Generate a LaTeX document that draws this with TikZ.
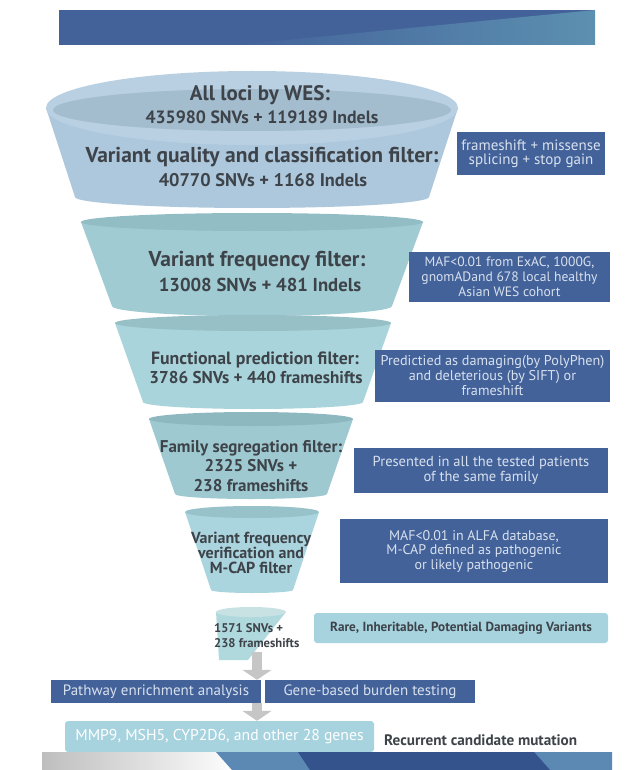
\documentclass[tikz,border=0pt]{standalone}
\usepackage{fontspec}
\setmainfont{PT Sans}
\usepackage{xcolor}
\usetikzlibrary{positioning,arrows.meta,calc}
\definecolor{boxblue}{HTML}{43629A}
\definecolor{boxtext}{HTML}{D8E1EE}
\definecolor{lightbox}{HTML}{A7D3DF}
\definecolor{ink}{HTML}{3D4349}
\definecolor{arrowgrey}{HTML}{C6C6C6}
\definecolor{bannerlight}{HTML}{5C90B0}
\definecolor{innerrim}{HTML}{A3BCCE}
\definecolor{smallbody}{HTML}{B0D9DE}
\definecolor{smalltop}{HTML}{C8E2E4}
\definecolor{bandgrey}{HTML}{BEBEBE}
\definecolor{bandmid}{HTML}{5C88B4}
\definecolor{banddark}{HTML}{34528C}
\tikzset{
  note/.style={fill=boxblue,text=boxtext,align=center,inner sep=2pt,font=\fontsize{14.5}{15}\selectfont},
  lightnote/.style={fill=lightbox,rounded corners=3pt,align=center,inner sep=2pt},
  stage/.style={text=ink,align=center,inner sep=0pt,font=\bfseries},
  fatarrow/.style={arrowgrey,line width=10pt,-{Triangle[width=29pt,length=10pt]}},
}

\begin{document}
\begin{tikzpicture}[x=1pt,y=1pt]
  \useasboundingbox (0,0) rectangle (624,-770);
  % banner on top
  \fill[boxblue] (59,-10) rectangle (595,-45);
  \shade[left color=boxblue,right color=bannerlight] (235,-45) -- (595,-10) -- (595,-45) -- cycle;
  % funnels: centre x, top y, top rx, top ry, bottom y, bottom rx, bottom ry, body, top
  \foreach \cx/\yt/\rt/\st/\yb/\rb/\sb/\bc/\tc in {
      252/108/206/37/197/177/11/ADC8DC/B8D0E1,
      252/222/171/9/306/140/10/A0CBD2/93BDC4,
      253/323/138/8/402/110/7/A9D4DB/96C0C6,
      251/419/102/7/494/76/5/9FC9D1/8EB8BF,
      252/512/67/6/590/41/3/AAD4DE/97C2CA} {
    \definecolor{bodyc}{HTML}{\bc}
    \definecolor{topc}{HTML}{\tc}
    \fill[bodyc] (\cx-\rt,-\yt) -- (\cx-\rb,-\yb) arc[start angle=180,end angle=360,x radius=\rb,y radius=\sb] -- (\cx+\rt,-\yt) -- cycle;
    \fill[topc] (\cx,-\yt) ellipse[x radius=\rt,y radius=\st];
  }
  \fill[innerrim] (252,-110) ellipse[x radius=199,y radius=21];
  % last small funnel
  \fill[smallbody] (216,-612) -- (219,-660) -- (248,-660) -- (286,-612) -- cycle;
  \fill[smalltop] (251,-612) ellipse[x radius=35,y radius=5];
  \coordinate (small) at (257,-652);

  % stage texts
  \node[stage,font=\bfseries\fontsize{21}{23}\selectfont] (wes) at (260,-95) {All loci by WES:};
  \node[stage,font=\bfseries\fontsize{17.8}{19}\selectfont] (wesn) at (262,-117) {435980 SNVs + 119189 Indels};
  \node[stage,font=\bfseries\fontsize{21.5}{23}\selectfont] (qual) at (262,-157) {Variant quality and classification filter:};
  \node[stage,font=\bfseries\fontsize{18.3}{20}\selectfont] (qualn) at (263,-180) {40770 SNVs + 1168 Indels};
  \node[stage,font=\bfseries\fontsize{21.5}{23}\selectfont] (freq) at (257,-261) {Variant frequency filter:};
  \node[stage,font=\bfseries\fontsize{18.7}{20}\selectfont] (freqn) at (260,-285) {13008 SNVs + 481 Indels};
  \node[stage,font=\bfseries\fontsize{17.8}{19}\selectfont] (func) at (255,-360) {Functional prediction filter:};
  \node[stage,font=\bfseries\fontsize{17.1}{19}\selectfont] (funcn) at (256,-378) {3786 SNVs + 440 frameshifts};
  \node[stage,font=\bfseries\fontsize{17}{19.5}\selectfont] (fam) at (251,-466) {Family segregation filter:\\2325 SNVs +\\238 frameshifts};
  \node[stage,font=\bfseries\fontsize{16}{15}\selectfont] (verif) at (251,-553) {Variant frequency\\verification and\\M-CAP filter};
  \node[stage,align=left,anchor=west,font=\bfseries\fontsize{12.6}{15}\selectfont] (final) at (214,-636) {1571 SNVs +\\238 frameshifts};

  % side notes
  \node[note,font=\fontsize{15}{14}\selectfont,minimum width=148pt,minimum height=43pt] (cls) at (531,-153.5) {frameshift + missense\\splicing + stop gain};
  \node[note,font=\fontsize{13.6}{15}\selectfont,minimum width=201pt,minimum height=50pt] (maf) at (509.5,-277) {MAF<0.01 from ExAC, 1000G,\\gnomADand 678 local healthy\\Asian WES cohort};
  \node[note,font=\fontsize{14.2}{15}\selectfont,minimum width=235pt,minimum height=52pt,inner sep=0pt] (pred) at (492.5,-376) {Predictied as damaging(by PolyPhen)\\and deleterious (by SIFT) or\\frameshift};
  \node[note,minimum width=254pt,minimum height=45pt] (seg) at (481,-470.5) {Presented in all the tested patients\\of the same family};
  \node[note,font=\fontsize{14}{14.5}\selectfont,minimum width=268pt,minimum height=64pt] (alfa) at (474,-551) {MAF<0.01 in ALFA database,\\M-CAP defined as pathogenic\\or likely pathogenic};
  \node[lightnote,text=ink,font=\bfseries\fontsize{13.2}{15}\selectfont,minimum width=294pt,minimum height=30pt] (rare) at (461,-628) {Rare, Inheritable, Potential Damaging Variants};

  % analyses
  \node[note,font=\fontsize{15}{16}\selectfont,minimum width=210pt,minimum height=23pt] (path) at (156,-691.5) {Pathway enrichment analysis};
  \node[note,font=\fontsize{15}{16}\selectfont,minimum width=210pt,minimum height=23pt] (burden) at (370,-691.5) {Gene-based burden testing};
  \node[lightnote,text=white,font=\fontsize{15.7}{18}\selectfont,minimum width=309pt,minimum height=31pt] (genes) at (219.5,-736.5) {MMP9, MSH5, CYP2D6, and other 28 genes};
  \node[stage,font=\bfseries\fontsize{15.2}{16}\selectfont,anchor=west] (recur) at (384,-740) {Recurrent candidate mutation};

  % grey arrows
  \draw[fatarrow] (small) -- (small |- path.north);
  \draw[fatarrow] (small |- path.south) -- (small |- genes.north);

  % bottom band
  \shade[left color=bandgrey,right color=white] (42,-752) rectangle (240,-770);
  \fill[bandmid] (216,-752) -- (612,-752) -- (612,-770) -- (232,-770) -- cycle;
  \fill[banddark] (298,-752) -- (534,-752) -- (550,-770) -- (310,-770) -- cycle;
\end{tikzpicture}
\end{document}
